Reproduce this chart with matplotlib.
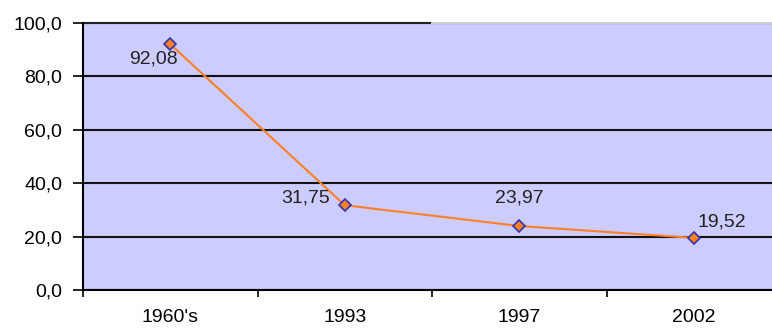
import matplotlib.pyplot as plt

plt.rcParams['font.family'] = ['Liberation Sans', 'DejaVu Sans']

periods = ["1960's", "1993", "1997", "2002"]
values = [92.08, 31.75, 23.97, 19.52]
value_labels = ["92,08", "31,75", "23,97", "19,52"]
y_ticks = [0, 20, 40, 60, 80, 100]

fig = plt.figure(figsize=(7.72, 3.31), dpi=100)
ax = fig.add_axes([83 / 772, 41 / 331, 698 / 772, 267 / 331])
ax.set_facecolor('#CCCCFF')

x = list(range(len(periods)))
ax.plot(x, values, color='#FF7F27', lw=1.5, zorder=3)
ax.plot(x, values, ls='none', marker='D', ms=6, mfc='#FF7F27',
        mec='#3333AA', mew=1.2, zorder=4)

# value labels around each point
offsets = [(-17, -15), (-39, 7), (0, 28), (28, 16)]
for xi, v, txt, (dx, dy) in zip(x, values, value_labels, offsets):
    ax.annotate(txt, (xi, v), xytext=(dx, dy), textcoords='offset pixels',
                ha='center', va='center', fontsize=14, color='#222222')

ax.set_xlim(-0.5, 3.5)
ax.set_ylim(0, 100)

ax.set_yticks(y_ticks)
ax.set_yticklabels([f"{t:.1f}".replace('.', ',') for t in y_ticks])
ax.yaxis.grid(True, color='#111111', lw=1.5)
ax.set_axisbelow(True)
ax.tick_params(axis='y', length=7, width=1.2, pad=8, labelsize=14)

ax.set_xticks(x)
ax.set_xticklabels(periods)
ax.set_xticks([-0.5, 0.5, 1.5, 2.5, 3.5], minor=True)
ax.tick_params(axis='x', which='major', length=0, pad=14, labelsize=14)
ax.tick_params(axis='x', which='minor', length=5, width=1.2)

ax.spines['right'].set_visible(False)
ax.spines['top'].set_visible(False)
ax.spines['left'].set_linewidth(1.5)
ax.spines['bottom'].set_linewidth(1.5)

# top border: dark on the left half, pale gray on the right
ax.plot([-0.5, 1.5], [100, 100], color='#222222', lw=1.5, clip_on=False)
ax.plot([1.5, 3.5], [100, 100], color='#CCCCCC', lw=1.5, clip_on=False)

fig.savefig('out.png', dpi=100)
